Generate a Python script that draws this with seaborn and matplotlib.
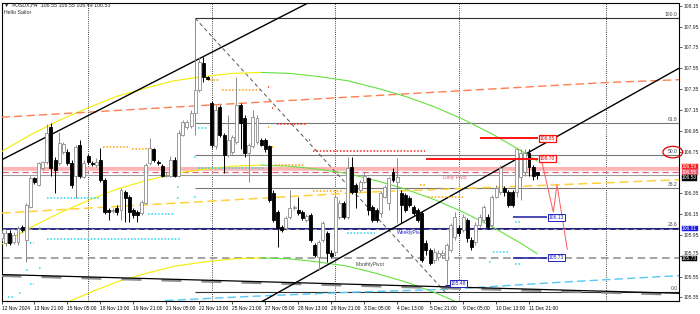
import matplotlib
matplotlib.use("Agg")
import matplotlib.pyplot as plt
import seaborn as sns
import pandas as pd
import numpy as np
from matplotlib.patches import Ellipse

sns.set_style("white")
plt.rcParams["font.family"] = ["Liberation Sans", "DejaVu Sans"]

# ---------------- candle data (USDX H4) ----------------
opens = [105.92, 105.87, 105.97, 105.88, 105.88, 106.03, 105.90, 106.22, 106.50, 106.43,
         106.59, 106.65, 106.99, 106.67, 106.64, 106.75, 106.75, 106.64, 106.52, 106.81,
         106.51, 106.71, 106.64, 106.62, 106.67, 106.48, 106.19, 106.18, 106.21, 106.19,
         106.36, 106.31, 106.19, 106.17, 106.16, 106.26, 106.64, 106.77, 106.65, 106.61,
         106.52, 106.52, 106.67, 106.52, 106.91, 106.99, 107.00, 107.12, 107.34, 107.60,
         107.47, 107.22, 106.80, 107.18, 106.91, 106.72, 106.75, 106.84, 107.20, 107.07,
         106.74, 106.80, 106.84, 106.86, 106.86, 106.80, 106.35, 106.17, 106.03, 106.02,
         106.12, 106.21, 106.19, 106.17, 106.09, 106.14, 105.85, 105.74, 105.90, 105.97,
         105.78, 105.79, 106.12, 106.26, 106.12, 106.60, 106.43, 106.38, 106.46, 106.50,
         106.22, 106.19, 106.16, 106.31, 106.26, 106.55, 106.46, 106.35, 106.33, 106.30,
         106.22, 106.19, 106.16, 105.87, 105.81, 105.71, 105.74, 105.76, 105.71, 105.81,
         105.93, 106.02, 106.00, 106.09, 105.90, 105.88, 106.05, 106.09, 106.12, 106.05,
         106.31, 106.36, 106.40, 106.36, 106.36, 106.36, 106.51, 106.55, 106.74, 106.60,
         106.55]
highs = [106.00, 106.00, 106.00, 105.98, 106.04, 106.05, 106.26, 106.52, 106.51, 106.65,
         106.66, 107.01, 107.02, 106.70, 106.94, 106.84, 106.77, 106.67, 106.81, 106.86,
         106.67, 106.73, 106.66, 106.69, 106.78, 106.50, 106.21, 106.21, 106.24, 106.40,
         106.38, 106.33, 106.21, 106.19, 106.29, 106.64, 106.88, 106.78, 106.67, 106.63,
         106.55, 106.71, 106.70, 106.96, 107.05, 107.05, 107.15, 108.03, 107.66, 107.66,
         107.48, 107.24, 107.20, 107.20, 106.93, 107.10, 106.91, 107.47, 107.22, 107.10,
         106.83, 107.15, 107.10, 106.88, 106.88, 106.81, 106.38, 106.19, 106.05, 106.13,
         106.38, 106.24, 106.31, 106.19, 106.15, 106.16, 105.87, 105.90, 106.08, 105.99,
         105.81, 106.33, 106.29, 106.28, 106.70, 106.70, 106.45, 106.48, 106.55, 106.51,
         106.24, 106.21, 106.37, 106.43, 106.51, 106.59, 106.69, 106.38, 106.35, 106.32,
         106.24, 106.21, 106.18, 105.90, 105.82, 105.82, 105.81, 105.81, 105.87, 106.06,
         106.17, 106.05, 106.15, 106.11, 105.93, 106.07, 106.15, 106.24, 106.15, 106.33,
         106.43, 106.62, 106.42, 106.38, 106.38, 106.78, 106.77, 106.77, 106.77, 106.62,
         106.55]
lows = [105.89, 105.84, 105.85, 105.86, 105.85, 105.98, 105.69, 106.21, 106.44, 106.42,
        106.57, 106.63, 106.52, 106.35, 106.62, 106.73, 106.62, 106.40, 106.30, 106.50,
        106.50, 106.63, 106.61, 106.60, 106.46, 106.15, 106.09, 106.16, 106.14, 106.09,
        106.07, 106.07, 106.11, 106.07, 106.14, 106.25, 106.62, 106.65, 106.62, 106.51,
        106.51, 106.51, 106.51, 106.51, 106.90, 106.97, 106.98, 106.91, 107.32, 107.42,
        107.44, 106.78, 106.77, 106.89, 106.54, 106.70, 106.73, 106.82, 106.77, 106.70,
        106.46, 106.78, 106.82, 106.80, 106.75, 106.27, 106.07, 105.83, 105.98, 106.00,
        106.10, 106.19, 106.14, 106.09, 106.07, 105.88, 105.74, 105.61, 105.88, 105.69,
        105.73, 105.77, 106.10, 106.10, 106.10, 106.34, 106.21, 106.36, 106.45, 106.14,
        106.07, 106.07, 106.12, 106.30, 106.19, 106.46, 106.06, 106.06, 106.17, 106.22,
        106.14, 106.07, 105.69, 105.76, 105.66, 105.68, 105.71, 105.73, 105.48, 105.79,
        105.90, 105.94, 105.98, 105.88, 105.81, 105.85, 106.03, 106.07, 106.01, 106.03,
        106.30, 106.34, 106.32, 106.22, 106.22, 106.31, 106.29, 106.52, 106.52, 106.48,
        106.49]
closes = [105.97, 105.97, 105.87, 105.95, 106.02, 106.00, 106.24, 106.50, 106.46, 106.64,
          106.65, 106.93, 106.59, 106.57, 106.83, 106.82, 106.64, 106.43, 106.79, 106.52,
          106.64, 106.65, 106.63, 106.65, 106.48, 106.17, 106.17, 106.19, 106.17, 106.38,
          106.30, 106.17, 106.14, 106.14, 106.27, 106.62, 106.78, 106.67, 106.64, 106.52,
          106.53, 106.67, 106.52, 106.93, 107.03, 107.03, 107.12, 107.34, 107.61, 107.47,
          107.45, 106.81, 107.15, 106.91, 106.72, 106.86, 106.89, 107.20, 107.02, 106.74,
          106.81, 107.08, 107.07, 106.81, 106.77, 106.29, 106.09, 106.02, 106.00, 106.11,
          106.21, 106.22, 106.16, 106.11, 106.13, 105.90, 105.76, 105.88, 106.06, 105.78,
          105.75, 106.31, 106.26, 106.12, 106.59, 106.36, 106.36, 106.46, 106.52, 106.19,
          106.09, 106.09, 106.35, 106.41, 106.50, 106.48, 106.51, 106.24, 106.19, 106.24,
          106.16, 106.09, 105.71, 105.81, 105.68, 105.79, 105.78, 105.78, 105.85, 106.05,
          106.12, 105.97, 106.12, 105.92, 105.83, 106.05, 106.12, 106.22, 106.03, 106.31,
          106.40, 106.59, 106.36, 106.24, 106.24, 106.77, 106.74, 106.74, 106.60, 106.52,
          106.53]

tick_bars = [0, 8, 16, 24, 32, 40, 48, 56, 64, 72, 80, 88, 96, 104, 112, 120, 128]
tick_labels = ["12 Nov 2024", "13 Nov 21:00", "15 Nov 05:00", "18 Nov 13:00", "19 Nov 21:00",
               "21 Nov 05:00", "22 Nov 13:00", "25 Nov 21:00", "27 Nov 05:00", "28 Nov 13:00",
               "29 Nov 21:00", "3 Dec 05:00", "4 Dec 13:00", "5 Dec 21:00", "9 Dec 05:00",
               "10 Dec 13:00", "11 Dec 21:00"]
ytick_vals = [108.15, 107.95, 107.75, 107.55, 107.35, 107.15, 106.95, 106.75,
              106.35, 106.15, 105.95, 105.75, 105.55, 105.35]
week_starts = [21, 51, 81, 111, 146.7]

# regression arc (middle line), channel half width
arc_bars = [0, 7, 14, 21, 28, 35, 42, 49, 56, 63, 70, 77, 84, 91, 98, 105, 112, 119, 126, 130]
arc_mid = [105.86, 106.02, 106.16, 106.28, 106.39, 106.47, 106.54, 106.58, 106.61, 106.62,
           106.61, 106.58, 106.54, 106.47, 106.39, 106.29, 106.17, 106.03, 105.87, 105.77]
arc_half = 0.89
arc_top_bar = 63

# moving-average style lines
gold_bars = [0, 44.5, 88.2, 134.3, 164.4]
gold_vals = [106.16, 106.26, 106.36, 106.43, 106.48]
coral_bars = [0, 43.3, 91.9, 145.3, 164.4]
coral_vals = [107.08, 107.18, 107.29, 107.41, 107.44]
cyan_bars = [39.7, 60.3, 84.6, 108.9, 133.1, 164.4]
cyan_vals = [105.32, 105.36, 105.40, 105.43, 105.49, 105.56]

# trend lines
up_line_bars, up_line_vals = [0, 80], [106.67, 108.29]
lo_line_bars, lo_line_vals = [60, 164.4], [105.24, 107.55]
base_line_bars, base_line_vals = [0, 164.4], [105.57, 105.39]

# fibonacci
fib_start, fib_end = 47, 107.7
fib_high, fib_low = 108.03, 105.40
fib_ratios = [0.0, 0.236, 0.382, 0.5, 0.618, 1.0]
fib_names = ["0.0", "23.6", "38.2", "50.0", "61.8", "100.0"]

# pivots
daily_band, daily_pivot, bid_price = 106.59, 106.55, 106.53
weekly_pivot, monthly_pivot = 106.01, 105.73

# support / resistance dotted markers: (bar0, bar1, price)
orange_levels = [(24.6, 31.2, 106.79), (31.7, 35.3, 106.77), (50.6, 53.0, 107.44),
                 (53.5, 62.7, 107.34), (66.4, 73.7, 106.62), (75.6, 82.7, 106.37),
                 (101.6, 102.8, 106.43), (103.5, 112.5, 106.31), (64.7, 64.9, 106.99),
                 (65.7, 65.9, 106.79)]
red_levels = [(66.9, 74.2, 107.01), (75.6, 102.8, 106.76), (64.7, 64.9, 107.37),
              (65.7, 65.9, 107.17), (74.6, 74.8, 106.86)]
cyan_levels = [(11.1, 23.9, 106.30), (11.1, 43.3, 105.91), (35.6, 42.1, 106.15),
               (47.7, 49.9, 106.98), (47.7, 64.0, 106.59), (83.9, 90.7, 105.97),
               (119.3, 122.9, 105.79), (124.6, 125.9, 106.07), (124.6, 125.9, 105.67),
               (7.0, 7.8, 105.87), (9.0, 9.8, 106.02), (6.0, 6.6, 105.61), (9.0, 9.8, 105.63),
               (7.0, 7.8, 105.48), (4.2, 5.0, 105.39), (1.5, 3.0, 105.35), (42.6, 43.0, 106.41),
               (42.6, 43.0, 106.30), (118.4, 118.8, 105.69), (46.8, 47.2, 106.70),
               (46.8, 47.2, 106.31)]

# projections
red_proj = [(116.0, 130.2, 106.88, "106.85"), (103.0, 130.2, 106.68, "106.70")]
red_path_bars = [130.9, 133.9, 134.8, 137.3]
red_path_vals = [106.69, 106.17, 106.43, 105.81]
blue_proj = [(124.2, 132.4, 106.12, "106.13"), (124.2, 132.4, 105.73, "105.73")]
low_mark_bar, low_mark_val = 107.7, 105.48

# right-axis price boxes (label, colour)
axis_box_vals = [106.605, 106.552, 106.499, 106.01, 105.725]
axis_box_labels = ["106.59", "106.55", "106.53", "106.01", "105.73"]
axis_box_colors = ["#FF1A1A", "#F05A6E", "black", "#1A1AE6", "black"]

# ---------------- figure ----------------
W, H = 700, 314
fig = plt.figure(figsize=(W / 100, H / 100), dpi=100)
ax = fig.add_axes([1.5 / W, 13 / H, 677.5 / W, 298 / H])
XMAX = 164.4
YMIN, YMAX = 105.316, 108.176
ax.set_xlim(0, XMAX)
ax.set_ylim(YMIN, YMAX)
ax.set_facecolor("white")

# period separators
for b in week_starts:
    ax.axvline(b, color="black", lw=0.6, ls=(0, (1, 1.6)), zorder=1)

# fib levels
rng = fib_high - fib_low
for r, nm in zip(fib_ratios, fib_names):
    lv = fib_low + r * rng
    col = "#333333" if r in (0.0, 1.0) else "#777777"
    ax.hlines(lv, fib_start, XMAX, colors=col, lw=0.8, zorder=2)
    ax.text(XMAX - 0.3, lv + 0.008, nm, fontsize=3.6, color="#444444",
            ha="right", va="bottom", zorder=9)
    if nm == "50.0":
        ax.add_patch(Ellipse((XMAX - 1.5, lv + 0.03), 4.8, 0.11, fill=False,
                             ec="#E00000", lw=0.9, clip_on=False, zorder=10))
ax.plot([fib_start, fib_end], [fib_high, fib_low], color="#555555", lw=0.7,
        ls=(0, (4, 3)), zorder=3)

# pivots
ax.axhline(daily_band, color="#FFB3B3", lw=2.2, zorder=2)
ax.axhline(daily_band - 0.02, color="#F7C6C6", lw=0.7, zorder=2)
ax.axhline(daily_pivot, color="#E0607A", lw=0.9, ls=(0, (5, 3)), zorder=2)
ax.axhline(bid_price, color="#9A9A9A", lw=0.8, zorder=2)
ax.axhline(weekly_pivot, color="#1A1A80", lw=1.3, zorder=2)
ax.axhline(weekly_pivot, color="#9A9A9A", lw=0.8, ls=(0, (3, 5)), zorder=2)
ax.axhline(monthly_pivot, color="#8C8C8C", lw=1.1, ls=(0, (5, 3)), zorder=2)
ax.text(107.2, daily_pivot - 0.045, "Daily Pivot", fontsize=3.6, color="#E0607A", va="center")
ax.text(96.0, weekly_pivot - 0.04, "WeeklyPivot", fontsize=3.6, color="#2B2BD0", va="center")
ax.text(86.0, monthly_pivot - 0.06, "MonthlyPivot", fontsize=3.6, color="#444444", va="center")

# regression arcs
arc = pd.DataFrame({"bar": arc_bars, "mid": arc_mid})
rise = arc[arc.bar <= arc_top_bar]
fall = arc[arc.bar >= arc_top_bar]
for off in (-arc_half, 0.0, arc_half):
    sns.lineplot(x=rise["bar"].values, y=rise["mid"].values + off, color="#F2EE00",
                 lw=0.8, ax=ax, sort=False, estimator=None, zorder=3)
    sns.lineplot(x=fall["bar"].values, y=fall["mid"].values + off, color="#66E040",
                 lw=0.8, ax=ax, sort=False, estimator=None, zorder=3)

# MA style lines
ax.plot(gold_bars, gold_vals, color="#FFD23C", lw=1.1, ls=(0, (6, 3)), zorder=3)
ax.plot(coral_bars, coral_vals, color="#FF7F4F", lw=1.0, ls=(0, (6, 3)), zorder=3)
ax.plot(cyan_bars, cyan_vals, color="#55C8F5", lw=1.0, ls=(0, (6, 3)), zorder=3)

# trend lines
sns.lineplot(x=up_line_bars, y=up_line_vals, color="black", lw=1.0, ax=ax, estimator=None, zorder=4)
sns.lineplot(x=lo_line_bars, y=lo_line_vals, color="black", lw=1.0, ax=ax, estimator=None, zorder=4)
ax.plot(base_line_bars, np.array(base_line_vals) - 0.012, color="#8C8C8C", lw=1.8,
        ls=(0, (8, 8)), zorder=3)
sns.lineplot(x=base_line_bars, y=base_line_vals, color="black", lw=0.9, ax=ax, estimator=None, zorder=4)

# dotted level markers
for lv_list, col in ((orange_levels, "#FFA000"), (red_levels, "#FF2020"), (cyan_levels, "#22D8F0")):
    for b0, b1, p in lv_list:
        ax.plot([b0, b1], [p, p], color=col, lw=1.1, ls=(0, (1, 1.2)), zorder=4,
                solid_capstyle="butt", dash_capstyle="butt")

# candles
o = np.array(opens); hh = np.array(highs); ll = np.array(lows); c = np.array(closes)
xb = np.arange(len(o))
bull = c >= o
ax.vlines(xb[bull], ll[bull], hh[bull], colors="#8C8C8C", lw=0.7, zorder=5)
ax.vlines(xb[~bull], ll[~bull], hh[~bull], colors="black", lw=0.7, zorder=5)
bot = np.minimum(o, c)
hgt = np.maximum(np.abs(c - o), 0.006)
ax.bar(xb[bull], hgt[bull], bottom=bot[bull], width=0.72, color="white",
       edgecolor="#8C8C8C", linewidth=0.6, zorder=6)
ax.bar(xb[~bull], hgt[~bull], bottom=bot[~bull], width=0.72, color="black",
       edgecolor="black", linewidth=0.6, zorder=6)

# projections
for b0, b1, p, lab in red_proj:
    ax.hlines(p, b0, b1, colors="#FF1010", lw=1.4, zorder=7)
    ax.text(b1 + 0.5, p, lab, fontsize=3.6, color="#E00000", va="center", ha="left", zorder=9,
            bbox=dict(boxstyle="square,pad=0.2", fc="white", ec="#FF1010", lw=0.9))
ax.plot(red_path_bars, red_path_vals, color="#FF5A5A", lw=0.7, zorder=7)
for b0, b1, p, lab in blue_proj:
    ax.hlines(p, b0, b1, colors="#1A1AA0", lw=1.1, zorder=7)
    ax.text(b1 + 0.4, p, lab, fontsize=3.6, color="#2020C0", va="center", ha="left", zorder=9,
            bbox=dict(boxstyle="square,pad=0.2", fc="white", ec="#2020C0", lw=0.7))
ax.hlines(low_mark_val - 0.01, low_mark_bar, low_mark_bar + 1.2, colors="#2020C0", lw=0.8, zorder=7)
ax.text(low_mark_bar + 1.4, low_mark_val, "105.48", fontsize=3.6, color="#2020C0",
        va="center", ha="left", zorder=9,
        bbox=dict(boxstyle="square,pad=0.2", fc="white", ec="#2020C0", lw=0.7))

# axes styling
for sp in ax.spines.values():
    sp.set_color("black")
    sp.set_linewidth(0.8)
ax.set_xticks(tick_bars)
ax.set_xticklabels(tick_labels, fontsize=3.5, ha="left")
ax.tick_params(axis="x", bottom=True, length=2, width=0.5, pad=1.5, direction="out", colors="black")
ax.yaxis.tick_right()
ax.set_yticks(ytick_vals)
ax.set_yticklabels([f"{v:.2f}" for v in ytick_vals], fontsize=3.6)
for lab, v in zip(ax.get_yticklabels(), ytick_vals):
    if v == 105.75:
        lab.set_va("bottom")
ax.tick_params(axis="y", right=True, left=False, length=2, width=0.5, pad=1.5, direction="out")
ax.set_xlabel("")
ax.set_ylabel("")

for p, lab, col in zip(axis_box_vals, axis_box_labels, axis_box_colors):
    ax.text(XMAX + 0.75, p, lab, fontsize=3.5, color="white", va="center", ha="left",
            clip_on=False, zorder=11,
            bbox=dict(boxstyle="square,pad=0.06", fc=col, ec=col, lw=0.3))

# header
fig.text(4 / W, 1 - 5 / H, "\u25bc  #USDX,H4  106.55 106.55 106.49 106.53", fontsize=3.8,
         va="center", ha="left")
fig.text(4 / W, 1 - 13 / H, "Hello Sailor", fontsize=3.8, va="center", ha="left")

fig.savefig("out.png", dpi=100, facecolor="white")
